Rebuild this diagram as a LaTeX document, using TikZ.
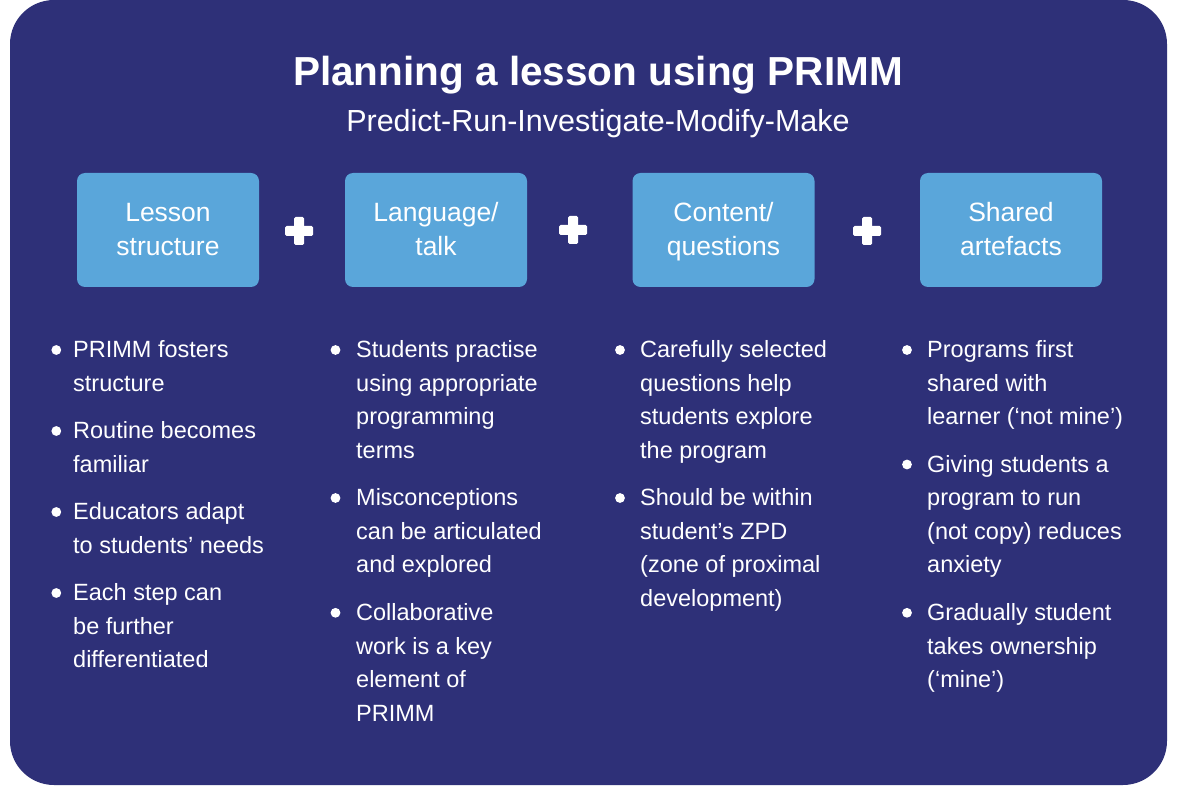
\documentclass[tikz,border=0pt]{standalone}
\usepackage{fontspec}
\setmainfont{Liberation Sans}
\definecolor{navy}{HTML}{2E3078}
\definecolor{boxblue}{HTML}{5AA6DA}
\tikzset{
  boxstyle/.style={fill=boxblue, rounded corners=8pt, minimum width=182pt, minimum height=114pt, inner sep=0pt},
  boxtext/.style={text=white, font=\fontsize{26.5}{33.5}\selectfont, inner sep=0pt, anchor=base},
  body/.style={text=white, font=\fontsize{23.5}{28}\selectfont, inner sep=0pt, anchor=base west},
  bul/.style={fill=white},
  plusbar/.style={fill=white, rounded corners=1.5pt},
  titlestyle/.style={text=white, font=\bfseries\fontsize{40.5}{48}\selectfont, inner sep=0pt, anchor=base},
  subtitlestyle/.style={text=white, font=\fontsize{30.5}{36}\selectfont, inner sep=0pt, anchor=base}
}
% name, text x, bullet x, first baseline, lines
\newcommand\bitem[5]{%
  \fill[bul] (#3,#4-7.7) circle (4.9pt);
  \foreach \txt [count=\i from 0] in {#5} {\node[body] (#1-\i) at (#2,#4+\i*33.5) {\txt};}
}
% name, center x, line1, line2
\newcommand\headbox[4]{%
  \node[boxstyle] (#1) at (#2,230) {};
  \node[boxtext] (#1-l1) at (#2,221.7) {#3};
  \node[boxtext] (#1-l2) at (#2,255.2) {#4};
}
\newcommand\plusat[2]{%
  \fill[plusbar] (#1-14,#2-5) rectangle (#1+14,#2+5);
  \fill[plusbar] (#1-5,#2-14) rectangle (#1+5,#2+14);
}
\begin{document}
\begin{tikzpicture}[x=1pt,y=-1pt]
\useasboundingbox (0,0) rectangle (1179,786);
\fill[white] (0,0) rectangle (1179,786);
\fill[navy, rounded corners=44pt] (10,0) rectangle (1167,785);

\node[titlestyle] (title) at (598,85.7) {Planning a lesson using PRIMM};
\node[subtitlestyle] (subtitle) at (598,132) {Predict-Run-Investigate-Modify-Make};

\headbox{b1}{168}{Lesson}{structure}
\headbox{b2}{436}{Language/}{talk}
\headbox{b3}{723.5}{Content/}{questions}
\headbox{b4}{1011}{Shared}{artefacts}

\plusat{299}{231}
\plusat{573}{230}
\plusat{867}{231}

% column 1
\bitem{c1a}{73}{56.3}{357.7}{PRIMM fosters,structure}
\bitem{c1b}{73}{56.3}{438.7}{Routine becomes,familiar}
\bitem{c1c}{73}{56.3}{519.7}{Educators adapt,to students’ needs}
\bitem{c1d}{73}{56.3}{600.7}{Each step can,be further,differentiated}
% column 2
\bitem{c2a}{356}{335.5}{357.7}{Students practise,using appropriate,programming,terms}
\bitem{c2b}{356}{335.5}{505.7}{Misconceptions,can be articulated,and explored}
\bitem{c2c}{356}{335.5}{620.5}{Collaborative,work is a key,element of,PRIMM}
% column 3
\bitem{c3a}{640}{620}{357.7}{Carefully selected,questions help,students explore,the program}
\bitem{c3b}{640}{620}{505.7}{Should be within,student’s ZPD,{(zone of proximal},development)}
% column 4
\bitem{c4a}{927}{907}{357.7}{Programs first,shared with,learner (‘not mine’)}
\bitem{c4b}{927}{907}{472.2}{Giving students a,program to run,{(not copy) reduces},anxiety}
\bitem{c4c}{927}{907}{620.5}{Gradually student,takes ownership,{(‘mine’)}}
\end{tikzpicture}
\end{document}
